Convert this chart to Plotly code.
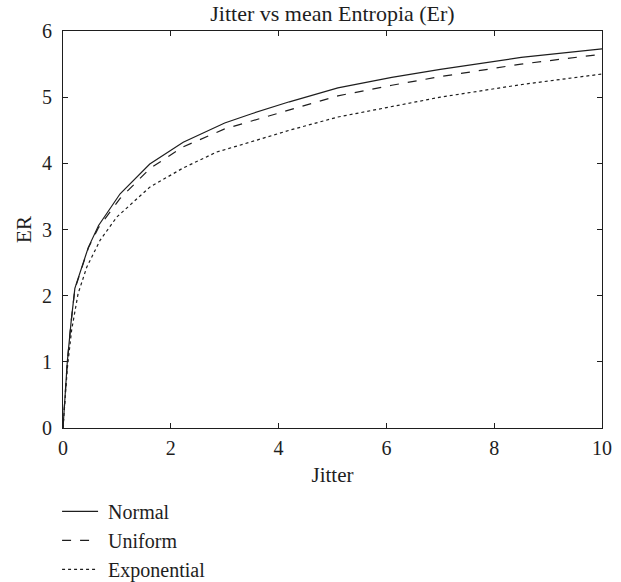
import plotly.graph_objects as go

jitter = [0, 0.08, 0.15, 0.22, 0.47, 0.66, 1.06, 1.61, 2.23, 3.0, 3.5, 4.2, 5.1, 6.1, 7.0, 8.5, 10]
er_normal = [0, 1.0, 1.6, 2.11, 2.73, 3.06, 3.54, 3.99, 4.32, 4.61, 4.75, 4.93, 5.14, 5.30, 5.42, 5.60, 5.73]
er_uniform = [0, 1.0, 1.6, 2.10, 2.72, 3.03, 3.47, 3.92, 4.25, 4.52, 4.64, 4.81, 5.02, 5.18, 5.31, 5.50, 5.65]

jitter_exp = [0, 0.08, 0.16, 0.28, 0.44, 0.69, 1.0, 1.61, 2.23, 2.85, 3.47, 4.2, 5.1, 6.1, 7.0, 8.5, 10]
er_exponential = [0, 0.9, 1.48, 2.03, 2.43, 2.84, 3.19, 3.64, 3.93, 4.17, 4.32, 4.50, 4.70, 4.86, 5.0, 5.19, 5.35]

series_names = ["Normal", "Uniform", "Exponential"]

x_ticks = [0, 2, 4, 6, 8, 10]
y_ticks = [0, 1, 2, 3, 4, 5, 6]

FONT = "Liberation Serif"
INK = "#1e1e1e"
FS = 20
PAD = "\u00a0"

fig = go.Figure()
fig.add_trace(go.Scatter(x=jitter, y=er_normal, mode="lines", name=PAD + series_names[0],
                         line=dict(color=INK, width=1.2, dash="solid")))
fig.add_trace(go.Scatter(x=jitter, y=er_uniform, mode="lines", name=PAD + series_names[1],
                         line=dict(color=INK, width=1.2, dash="dash")))
fig.add_trace(go.Scatter(x=jitter_exp, y=er_exponential, mode="lines", name=PAD + series_names[2],
                         line=dict(color=INK, width=1.2, dash="dot")))

axis_common = dict(
    showgrid=False, zeroline=False, showline=True, linecolor=INK, linewidth=1,
    mirror="ticks", ticks="inside", ticklen=5, tickcolor=INK, automargin=False,
    tickfont=dict(family=FONT, size=FS, color=INK),
)

fig.update_layout(
    width=621, height=582,
    margin=dict(l=63, r=19, t=31, b=154, autoexpand=False),
    paper_bgcolor="white", plot_bgcolor="white",
    font=dict(family=FONT, size=FS, color=INK),
    title=dict(text="Jitter vs mean Entropia (Er)", xref="paper", x=0.5, xanchor="center",
               yref="container", y=0.99, yanchor="top", font=dict(family=FONT, size=22, color=INK)),
    xaxis=dict(range=[0, 10], tickvals=x_ticks, ticklabelstandoff=2,
               title=dict(text="Jitter", standoff=9, font=dict(family=FONT, size=21, color=INK)),
               **axis_common),
    yaxis=dict(range=[0, 6], tickvals=y_ticks, ticklabelstandoff=6,
               title=dict(text="ER", standoff=4, font=dict(family=FONT, size=21, color=INK)),
               **axis_common),
    showlegend=True,
    legend=dict(x=-0.011, xanchor="left", y=-0.161, yanchor="top",
                font=dict(family=FONT, size=FS, color=INK), itemwidth=36,
                bgcolor="rgba(0,0,0,0)"),
)

fig.write_html("out.html", post_script="document.body.style.margin='0';",
               config={"displayModeBar": False})
